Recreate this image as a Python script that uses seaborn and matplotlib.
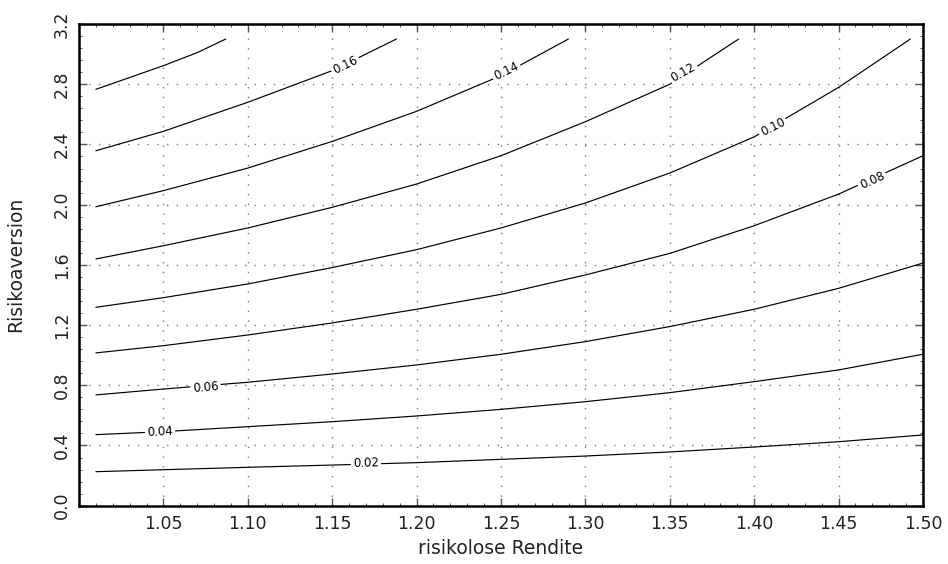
import numpy as np
import pandas as pd
import matplotlib
matplotlib.use("Agg")
import matplotlib.pyplot as plt
import seaborn as sns

# ---- data (contour lines of equal value) ----
levels = [0.02, 0.04, 0.06, 0.08, 0.10, 0.12, 0.14, 0.16, 0.18]
level_labels = ["0.02", "0.04", "0.06", "0.08", "0.10", "0.12", "0.14", "0.16", None]

r_full = [1.01, 1.05, 1.10, 1.15, 1.20, 1.25, 1.30, 1.35, 1.40, 1.45, 1.50]
g_002 = [0.226, 0.239, 0.255, 0.270, 0.286, 0.308, 0.330, 0.357, 0.390, 0.425, 0.470]
g_004 = [0.472, 0.492, 0.525, 0.558, 0.596, 0.640, 0.691, 0.751, 0.824, 0.902, 1.006]
g_006 = [0.736, 0.775, 0.820, 0.875, 0.935, 1.006, 1.090, 1.190, 1.305, 1.444, 1.612]
g_008 = [1.015, 1.063, 1.134, 1.214, 1.305, 1.404, 1.533, 1.676, 1.860, 2.070, 2.325]

r_010 = [1.01, 1.05, 1.10, 1.15, 1.20, 1.25, 1.30, 1.35, 1.40, 1.45, 1.4925]
g_010 = [1.318, 1.382, 1.473, 1.582, 1.701, 1.845, 2.011, 2.210, 2.450, 2.779, 3.100]
r_012 = [1.01, 1.05, 1.10, 1.15, 1.20, 1.25, 1.30, 1.35, 1.3908]
g_012 = [1.639, 1.727, 1.845, 1.982, 2.137, 2.325, 2.551, 2.800, 3.100]
r_014 = [1.01, 1.05, 1.10, 1.15, 1.20, 1.25, 1.2899]
g_014 = [1.986, 2.093, 2.243, 2.420, 2.620, 2.857, 3.100]
r_016 = [1.01, 1.05, 1.10, 1.15, 1.188]
g_016 = [2.358, 2.487, 2.680, 2.890, 3.100]
r_018 = [1.01, 1.05, 1.0705, 1.0869]
g_018 = [2.766, 2.923, 3.012, 3.100]

curves_r = [r_full, r_full, r_full, r_full, r_010, r_012, r_014, r_016, r_018]
curves_g = [g_002, g_004, g_006, g_008, g_010, g_012, g_014, g_016, g_018]

# label positions (x, y) along the curves and their angles on screen
label_r = [1.170, 1.048, 1.075, 1.470, 1.411, 1.358, 1.253, 1.158]
label_g = [0.284, 0.492, 0.787, 2.159, 2.513, 2.879, 2.890, 2.924]
label_rot = [1.6, 3.0, 4.6, 24.5, 27.0, 29.0, 26.0, 26.0]

x_ticks = [1.05, 1.10, 1.15, 1.20, 1.25, 1.30, 1.35, 1.40, 1.45, 1.50]
y_ticks = [0.0, 0.4, 0.8, 1.2, 1.6, 2.0, 2.4, 2.8, 3.2]

rows = []
for lev, rr, gg in zip(levels, curves_r, curves_g):
    for a, b in zip(rr, gg):
        rows.append({"level": lev, "r": a, "g": b})
df = pd.DataFrame(rows)

# ---- plotting ----
sns.set_theme(style="white")
plt.rcParams["font.family"] = ["DejaVu Sans"]

fig = plt.figure(figsize=(9.48, 5.64), dpi=100)
ax = fig.add_axes([79 / 948, 1 - 505.7 / 564, (923 - 79) / 948, (505.7 - 24) / 564])

sns.lineplot(data=df, x="r", y="g", units="level", estimator=None, sort=False,
             color="black", linewidth=0.85, ax=ax, legend=False, zorder=3)

for s, xr, yg, rot in zip(level_labels, label_r, label_g, label_rot):
    if s is None:
        continue
    ax.text(xr, yg, s, fontsize=8.5, ha="center", va="center", rotation=rot,
            rotation_mode="anchor", color="black", zorder=4,
            bbox=dict(facecolor="white", edgecolor="none", pad=1.5))

ax.set_xlim(1.0, 1.5)
ax.set_ylim(0.0, 3.2)
ax.set_xticks(x_ticks)
ax.set_xticklabels([f"{v:.2f}" for v in x_ticks], fontsize=12.5, color="#222222")
ax.set_yticks(y_ticks)
ax.set_yticklabels([f"{v:.1f}" for v in y_ticks], fontsize=12.5, color="#222222",
                   rotation=90, va="center")
ax.set_xticks(np.arange(1.0, 1.5001, 0.01), minor=True)
ax.set_yticks(np.arange(0.0, 3.2001, 0.08), minor=True)

ax.tick_params(which="major", direction="in", length=6, width=1.0, color="#555555",
               top=True, right=True, bottom=True, left=True, pad=7)
ax.tick_params(axis="y", which="major", pad=6)
ax.tick_params(which="minor", direction="in", length=2.5, width=0.7, color="#555555",
               top=True, right=True, bottom=True, left=True)

ax.grid(True, which="major", color="#777777", linestyle=(0, (1, 6)), linewidth=1.0)
ax.set_axisbelow(True)
for sp in ax.spines.values():
    sp.set_visible(True)
    sp.set_color("black")
    sp.set_linewidth(1.8)

ax.set_xlabel("risikolose Rendite", fontsize=13.5, color="#222222", labelpad=4)
ax.set_ylabel("Risikoaversion", fontsize=13.5, color="#222222", labelpad=20)

fig.savefig("out.png", dpi=100, facecolor="white")
